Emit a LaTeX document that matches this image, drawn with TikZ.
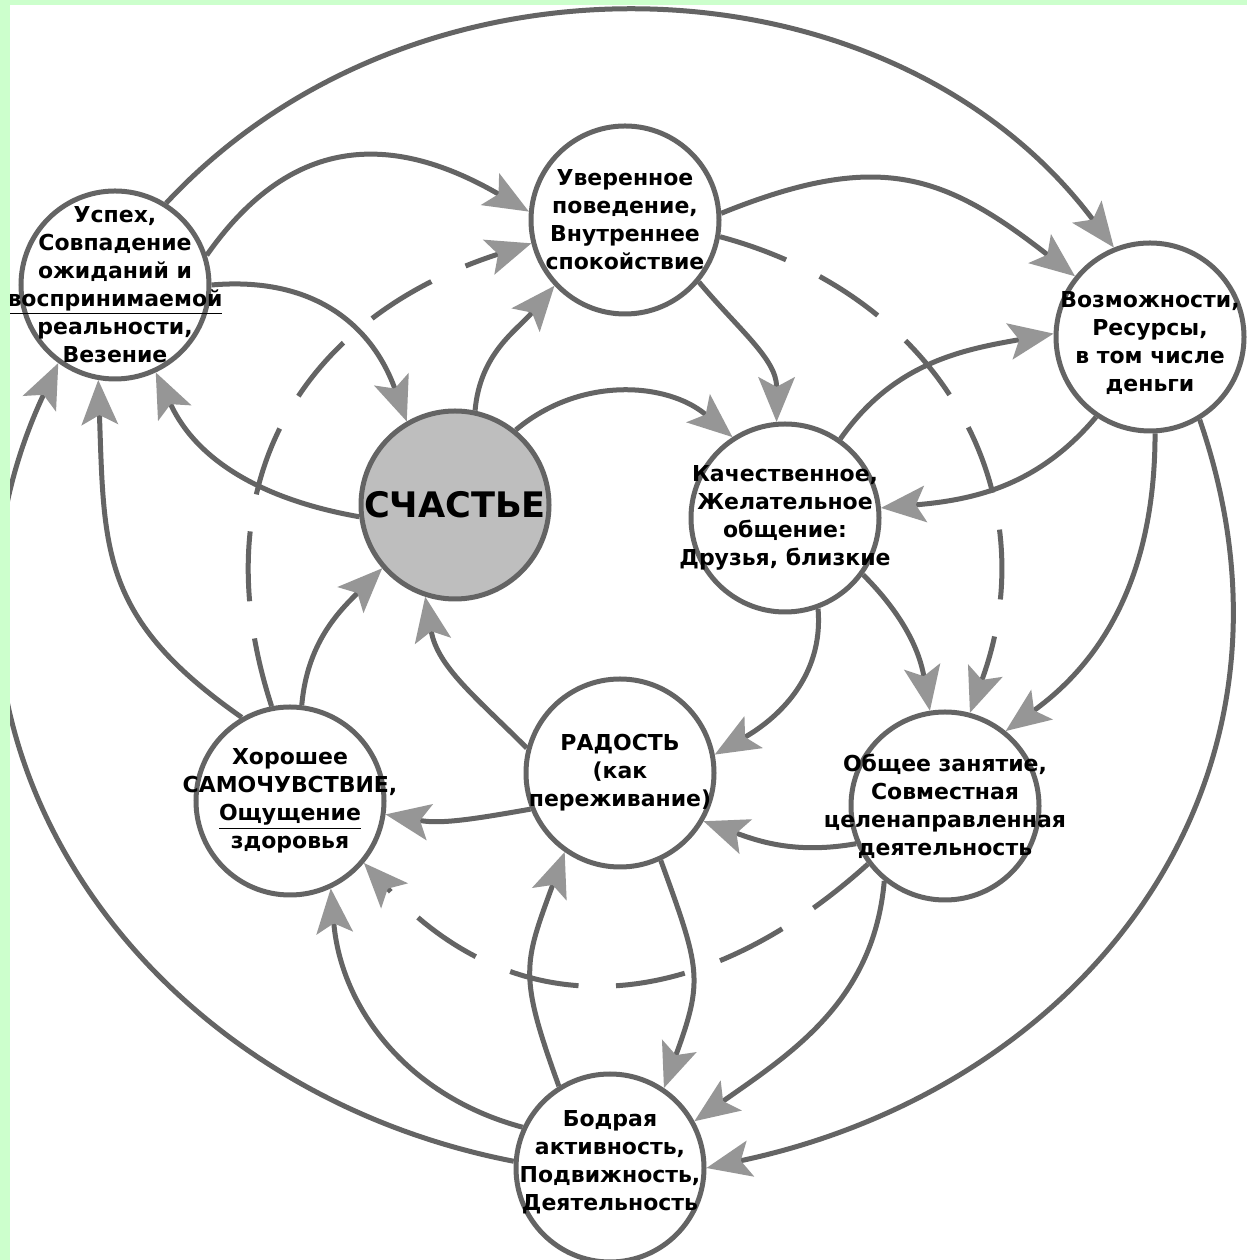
\documentclass[tikz,border=0pt]{standalone}
\usepackage{fontspec}
\setmainfont{DejaVu Sans}
\usetikzlibrary{arrows.meta}
\definecolor{pagegreen}{RGB}{204,255,204}
\definecolor{linegray}{RGB}{100,100,100}
\definecolor{tipgray}{RGB}{150,150,150}
\definecolor{hubgray}{RGB}{190,190,190}
\tikzset{>={Stealth[length=9mm,width=7.4mm,inset=2mm,color=tipgray,line width=0pt]}}
\tikzset{
  bubble/.style={circle, draw=linegray, line width=1mm, fill=white,
    minimum size=37.6mm, inner sep=0pt},
  bubtext/.style={align=center, inner sep=0pt,
    font=\bfseries\fontsize{12.5}{15.9}\selectfont},
  hubtext/.style={inner sep=0pt, font=\bfseries\fontsize{20}{24}\selectfont},
  link/.style={draw=linegray, line width=1mm, ->},
  dlink/.style={link, dash pattern=on 14mm off 7.5mm},
}

\begin{document}
\begin{tikzpicture}[x=0.2mm, y=0.2mm]
  \useasboundingbox (0,0) rectangle (1247,1260);
  \fill[pagegreen] (0,0) rectangle (1247,1260);
  \fill[white] (10,0) rectangle (1247,1255);

  % circles
  \node[bubble] (usp) at (115,975) {};
  \node[bubble] (uver) at (625,1040) {};
  \node[bubble] (vozm) at (1150,923) {};
  \node[bubble, fill=hubgray] (sch) at (455,755) {};
  \node[bubble] (kach) at (785,742) {};
  \node[bubble] (khor) at (290,459) {};
  \node[bubble] (rad) at (620,487) {};
  \node[bubble] (obsh) at (945,454) {};
  \node[bubble] (bodr) at (610,92) {};

  % outer ring
  \draw[link] (usp.58) to[out=47,in=127] (vozm.112);
  \draw[link] (vozm.-59) to[out=-71,in=12,looseness=1.1] (bodr.0);
  \draw[link] (bodr.176) to[out=169,in=245,looseness=1.1] (usp.234);

  % middle ring
  \draw[link] (usp.18) to[out=55,in=150,looseness=1.2] (uver.175);
  \draw[link] (uver.4) to[out=22,in=142,looseness=1.2] (vozm.141);
  \draw[link] (vozm.-87) to[out=-90,in=36] (obsh.51);
  \draw[link] (obsh.231) to[out=-95,in=35] (bodr.29);
  \draw[link] (bodr.155) to[out=165,in=-85] (khor.-65);
  \draw[link] (khor.120) to[out=145,in=-88,looseness=1.2] (usp.-100);

  % inner links
  \draw[link] (sch.187) to[out=170,in=-65] (usp.-65);
  \draw[link] (usp.0) to[out=5,in=110,looseness=1.1] (sch.120);
  \draw[link] (sch.78) to[out=85,in=230] (uver.223);
  \draw[link] (sch.51) to[out=40,in=140] (kach.123);
  \draw[link] (uver.-40) to[out=-50,in=90] (kach.95);
  \draw[link] (kach.55) to[out=55,in=190] (vozm.178);
  \draw[link] (vozm.236) to[out=230,in=5] (kach.6);
  \draw[link] (kach.-36) to[out=-45,in=100] (obsh.99);
  \draw[link] (kach.-70) to[out=-85,in=30] (rad.11);
  \draw[link] (obsh.203) to[out=190,in=-20] (rad.-30);
  \draw[link] (rad.202) to[out=190,in=-10] (khor.-8);
  \draw[link] (khor.83) to[out=85,in=225] (sch.221);
  \draw[link] (rad.165) to[out=135,in=280] (sch.252);
  \draw[link] (bodr.122) to[out=110,in=250,looseness=1.3] (rad.235);
  \draw[link] (rad.-65) to[out=-70,in=70,looseness=1.3] (bodr.56);

  % dashed loop
  \draw[dlink] (khor.101) to[out=108,in=198,looseness=1.15] (uver.194);
  \draw[dlink] (uver.-10) to[out=-15,in=70,looseness=1.1] (obsh.75);
  \draw[dlink] (obsh.217) to[out=222,in=313,looseness=1.15] (khor.-40);

  % texts
  \node[bubtext] (usp-t) at (usp) {Успех,\\Совпадение\\ожиданий и\\\underline{воспринимаемой}\\реальности,\\Везение};
  \node[bubtext] (uver-t) at (uver) {Уверенное\\поведение,\\Внутреннее\\спокойствие};
  \node[bubtext, yshift=-1.2mm] (vozm-t) at (vozm) {Возможности,\\Ресурсы,\\в том числе\\деньги};
  \node[hubtext] (sch-t) at (sch) {СЧАСТЬЕ};
  \node[bubtext] (kach-t) at (kach) {Качественное,\\Желательное\\общение:\\Друзья, близкие};
  \node[bubtext] (khor-t) at (khor) {Хорошее\\САМОЧУВСТВИЕ,\\\underline{Ощущение}\\здоровья};
  \node[bubtext] (rad-t) at (rad) {РАДОСТЬ\\(как\\переживание)};
  \node[bubtext] (obsh-t) at (obsh) {Общее занятие,\\Совместная\\целенаправленная\\деятельность};
  \node[bubtext, yshift=1.2mm] (bodr-t) at (bodr) {Бодрая\\активность,\\Подвижность,\\Деятельность};

  % page strip
  \fill[pagegreen] (0,0) rectangle (10,1260);
  \fill[pagegreen] (0,1255) rectangle (1247,1260);
\end{tikzpicture}
\end{document}
